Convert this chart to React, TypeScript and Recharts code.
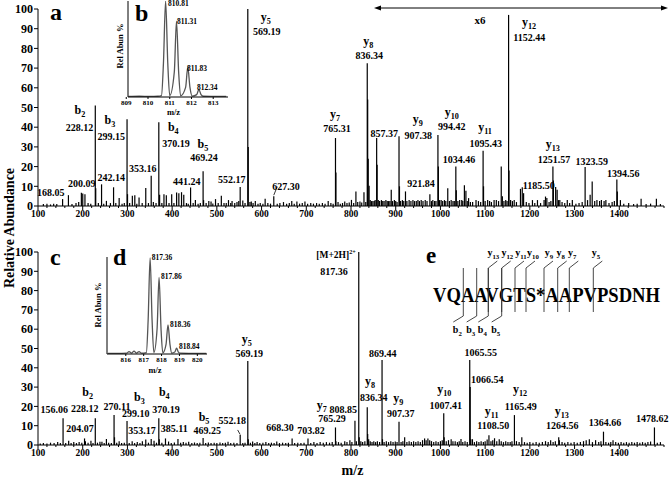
import React from 'react';
import {
  ScatterChart, Scatter, ErrorBar, XAxis, YAxis, ReferenceDot, ReferenceLine,
  LineChart, Line,
} from 'recharts';

const FONT = "'Liberation Serif', 'Times New Roman', serif";

// m/z axis (shared by both spectra)
const X_MAJOR = [100, 200, 300, 400, 500, 600, 700, 800, 900, 1000, 1100, 1200, 1300, 1400];
const X_TICKS = [...X_MAJOR.flatMap(t => [t, t + 20, t + 40, t + 60, t + 80]), 1500];
const Y_TICKS = [0, 10, 20, 30, 40, 50, 60, 70, 80, 90, 100];

// panel a: [m/z, relative abundance], region above ~840 shown x6
const PEAKS_A: [number, number][] = [
  [112, 1], [120, 1.2], [128, 0.8], [135, 1.2], [142, 1], [155, 3.5], [168.05, 5.5], [176, 1], [185, 1.5], [191, 2],
  [197, 6.7], [200.09, 6.3], [205, 6], [212, 1.5], [218, 1.2], [228.12, 51], [229.1, 9], [235, 1.5], [242.14, 11], [247, 1.2],
  [253, 2.6], [262, 1.5], [269, 9.5], [274, 1.5], [281.5, 4], [288, 1.2], [293, 1.5], [299.15, 44], [300.2, 6], [305, 1.5],
  [311, 5.2], [316.5, 5.4], [321, 1.2], [326, 4.3], [333, 1.5], [341, 9.1], [347, 1.5], [353.16, 15.4], [358, 2], [364, 1.5],
  [370.19, 42.5], [372, 5.7], [377, 1.5], [381.7, 6], [387, 5.4], [393, 1.5], [399, 6], [404, 1.5], [410, 6.9], [415, 6.5],
  [421, 7], [426, 5.7], [432, 1.5], [436, 1.2], [441.24, 9.4], [447, 1.5], [452, 3], [458, 1.2], [463, 1.5], [469.24, 17.6],
  [470.3, 3], [476, 1.5], [482, 2.6], [487, 2.3], [491, 1.3], [497, 3.5], [503, 1.5], [510, 5.2], [516, 1.5], [521, 1.5],
  [526, 3], [531, 1.5], [534, 2.5], [540, 1.5], [545, 2], [549, 2.6], [552.17, 9.7], [558, 2.8], [563, 1.5], [569.19, 100],
  [570.2, 30], [574, 2], [577, 2.3], [581, 1.5], [586, 2.6], [592, 1.2], [597, 1.5], [603, 1.2], [608, 3.7], [614, 1.5],
  [620, 1.2], [627.3, 5], [635, 1.2], [641, 1.5], [649, 2], [656, 1.2], [662, 1.5], [667.5, 2.6], [673, 1.2], [679, 2.3],
  [685, 1.2], [691, 1.5], [697, 2.3], [703, 1.2], [710, 1.5], [716, 1.2], [723, 1.5], [729, 1.2], [736, 1.5], [742, 1.2],
  [749, 2.6], [755, 1.5], [760, 1.2], [765.31, 34.5], [766.3, 17], [771, 2], [776, 1.2], [781, 1.5], [786, 2.3], [791, 1.5],
  [796, 1.8], [801, 3.1], [806, 1.5], [811, 7.4], [815, 2], [820, 2.3], [824, 1.8], [829, 7], [833, 2], [836.34, 72.5],
  [837.3, 54], [838.5, 24], [840.5, 10.3], [843, 3], [846, 2.5], [849, 2.5], [852, 2.5], [854, 3], [857.37, 34.5], [858.4, 21],
  [861, 3], [864, 2.5], [868, 3], [871, 2.5], [874, 2.5], [878, 3], [881, 2.5], [884, 2.5], [887, 2.5], [890, 8.2],
  [893, 2.5], [897, 3], [900, 2.5], [903, 2], [907.38, 35.4], [908.4, 10], [911, 2.5], [915, 3], [918, 2.5], [921.84, 7.4],
  [925, 2.5], [930, 3], [934, 2.5], [938.5, 3], [942, 2.5], [946, 2.5], [949.7, 3], [953, 2.5], [957, 3], [961, 2.5],
  [966, 3], [970, 2.5], [976.4, 6], [980, 2.5], [983, 3], [987, 2.5], [990, 2.5], [994.42, 36], [995.4, 20], [998, 3],
  [1001.6, 3], [1005, 2.5], [1009, 3], [1012, 2.5], [1016.4, 9], [1020, 2.5], [1024, 3], [1028, 2.5], [1031, 2.5], [1034.46, 20],
  [1035.5, 8], [1039, 2.5], [1043, 3], [1047.7, 3], [1050, 2.5], [1053.6, 10.5], [1057, 7.7], [1060, 2.5], [1063, 4], [1067, 2],
  [1072, 2], [1079.6, 3], [1085, 2.5], [1090, 2], [1095.43, 28], [1096.4, 10], [1100, 2.5], [1105.6, 3], [1110, 2.5], [1114, 2],
  [1120, 3], [1125, 3], [1130, 2.5], [1136, 20], [1138.5, 5], [1142, 2.5], [1146, 3], [1149, 2.5], [1152.44, 97], [1153.4, 18],
  [1157, 3], [1161, 2.5], [1165, 3], [1170, 2], [1179, 8.7], [1183, 9.5], [1186, 6.5], [1192, 2], [1198, 1.5], [1205.8, 3],
  [1211, 1.5], [1217, 3], [1224, 1.5], [1231.8, 3], [1235, 4.8], [1238, 4], [1243, 2], [1247, 2.5], [1251.57, 20], [1252.6, 13],
  [1257.7, 9.6], [1261, 8.2], [1264, 3], [1267, 3], [1272, 2], [1278, 1.5], [1283.7, 3], [1289, 1.5], [1295, 3], [1303, 1.2],
  [1310, 1.5], [1317, 2], [1323.59, 19.8], [1329, 3], [1334.8, 5.7], [1339.4, 12.5], [1345, 2.5], [1350, 3], [1356, 2.5], [1360, 3],
  [1366, 2.5], [1370, 3], [1377, 1.5], [1384, 2], [1389, 2.5], [1394.56, 13.5], [1395.6, 7.4], [1402.5, 3], [1410, 1.2], [1421, 1.5],
  [1432, 1], [1440, 1.2], [1448.8, 3.7], [1460, 1], [1470, 1.2], [1483, 3.7], [1492, 1],
];

// panel c: [m/z, relative abundance]
const PEAKS_C: [number, number][] = [
  [105, 0.8], [112, 1], [120, 0.8], [128, 1.2], [136, 1], [144, 1.5], [150, 1], [156.06, 13.8], [162, 1], [168.6, 2.2],
  [174, 1], [180, 1.5], [186, 1], [192, 1.5], [198, 1.2], [204.07, 3.4], [206, 2], [212, 1.2], [218.4, 2.2], [223, 1],
  [228.12, 13.8], [233, 1.2], [238.5, 1.7], [243, 1.7], [248, 1], [253, 3.1], [258, 1.2], [264, 1], [270.11, 15.5], [271.1, 4],
  [276, 1.2], [281.5, 2], [287, 1], [293, 1.2], [299.1, 12.4], [304, 1], [310.6, 2], [316, 1], [322, 1.5], [328, 1],
  [333.4, 2], [341, 2.8], [347, 1.2], [353.17, 3.1], [359.5, 2.2], [365, 1.2], [370.19, 13.8], [371.2, 3], [377, 1.2], [385.11, 3.4],
  [392, 1.8], [398, 1], [405, 1.3], [413, 3.1], [419, 1.2], [425, 1.5], [431, 1.2], [437, 1.7], [444, 1], [450, 1.3],
  [456, 1], [462, 1.2], [469.25, 3.6], [475, 1], [481, 1.3], [487, 1], [494, 1.2], [500, 1], [507, 1.3], [513, 1],
  [519, 1.2], [525, 1.7], [531, 1], [538, 1.2], [545, 1], [552.18, 5.2], [558, 1], [563, 1.2], [569.19, 43.5], [570.2, 3],
  [575, 1.2], [580, 1.8], [585, 1], [590, 1.5], [596, 1], [603, 1.2], [609.6, 1.5], [616, 1], [622, 1.2], [628, 1],
  [634, 1.8], [640, 1], [647, 1.2], [654, 1], [660, 1.2], [668.3, 3.4], [674, 1], [681, 1.2], [688, 1], [695, 1.2],
  [703.82, 3.4], [710, 1], [717, 1.5], [724, 1], [731, 1.5], [738, 1.2], [745, 1.5], [752, 1.2], [758, 1.5], [765.29, 9.1],
  [766.3, 2], [772, 1.5], [778, 1.2], [786, 2], [791, 1.5], [797.5, 2.5], [802, 1.5], [808.85, 12.6], [812, 2], [817.36, 100],
  [818.4, 4], [822, 2], [826, 1.5], [831, 2], [836.34, 19.5], [837.3, 5.7], [839.5, 3], [843, 2], [847, 1.5], [851, 2],
  [855, 1.5], [859, 2], [864, 1.5], [869.44, 44], [870.4, 3], [874, 1.5], [879, 2], [884, 1.5], [889, 2], [894, 1.5],
  [899, 1.8], [903, 1.5], [907.37, 12], [912, 1.5], [916, 2], [920, 4], [925, 1.5], [930, 2], [935, 1.5], [940, 2],
  [945, 1.5], [950, 2], [955, 1.5], [960, 2.5], [964.6, 3.4], [968, 2.5], [972, 3.4], [976, 2.5], [980, 2], [985, 1.5],
  [990, 2], [995, 1.5], [1000, 2], [1004, 2.5], [1007.41, 16.4], [1008.4, 4], [1013, 2], [1018, 2.5], [1024, 3], [1028, 2],
  [1033, 2], [1038, 1.5], [1042, 2], [1046, 3.1], [1050, 1.5], [1055, 2], [1060, 1.5], [1065.55, 44], [1066.54, 30], [1068, 3],
  [1071.6, 3], [1076, 1.5], [1081, 2], [1086, 1.5], [1091, 2], [1096, 1.5], [1100, 2], [1104.5, 2.8], [1108.5, 5], [1113, 2],
  [1117, 2.5], [1121, 3.5], [1126, 2], [1131.5, 3], [1136, 2], [1141, 1.5], [1146, 2], [1151, 1.5], [1156, 1.5], [1160, 2],
  [1165.49, 15.5], [1170, 2], [1176, 1.5], [1182, 4], [1188, 1.5], [1194, 1.2], [1200, 1.5], [1207, 1.2], [1214, 1.5], [1221, 1.2],
  [1228, 1.5], [1235, 2], [1241, 1.5], [1246.5, 2.5], [1252, 1.5], [1257, 2], [1264.56, 4], [1266, 2.5], [1272, 1.5], [1278, 1.2],
  [1285, 1.5], [1292, 1.2], [1299, 1.5], [1306, 1.2], [1313, 1.5], [1320, 2], [1326, 2.5], [1333, 3], [1340, 1.5], [1347, 2.5],
  [1354, 1.5], [1359, 2], [1364.66, 6.9], [1370, 1.5], [1376, 1.2], [1381, 1.5], [1386, 2.5], [1392, 1.5], [1398, 1.2], [1404, 1.5],
  [1410, 1.2], [1416, 1.5], [1422, 1.2], [1428, 1.5], [1434, 1.2], [1440, 1.5], [1446, 1.2], [1452, 1.5], [1458, 1.2], [1464, 1.5],
  [1470, 1.8], [1478.62, 9.1], [1485, 1.2], [1492, 1.5],
];

// peak annotations: [m/z text, ion letter, ion number]
const LABELS_A = [
  ['168.05', '', ''], ['200.09', '', ''], ['228.12', 'b', '2'], ['242.14', '', ''], ['299.15', 'b', '3'],
  ['353.16', '', ''], ['370.19', 'b', '4'], ['441.24', '', ''], ['469.24', 'b', '5'], ['552.17', '', ''],
  ['569.19', 'y', '5'], ['627.30', '', ''], ['765.31', 'y', '7'], ['836.34', 'y', '8'], ['857.37', '', ''],
  ['907.38', 'y', '9'], ['921.84', '', ''], ['994.42', 'y', '10'], ['1034.46', '', ''], ['1095.43', 'y', '11'],
  ['1152.44', 'y', '12'], ['1185.50', '', ''], ['1251.57', 'y', '13'], ['1323.59', '', ''], ['1394.56', '', ''],
];
// label anchors in chart units: [m/z, y of value text, m/z of ion, y of ion]
const LABEL_AT_A = [
  [128.4, 5.1, 0, 0], [197.7, 9.8, 0, 0], [192.8, 38.2, 193.9, 46.8], [263.9, 12.7, 0, 0], [263.9, 33.5, 261, 41.6],
  [334.2, 17.3, 0, 0], [408.7, 30.1, 402.6, 38.2], [432.6, 10.7, 0, 0], [471.3, 22.6, 469, 29.4], [533.2, 11.5, 0, 0],
  [611.5, 86.8, 609.3, 94], [654.7, 8.1, 0, 0], [768.7, 37.6, 764.3, 44.5], [841, 74.5, 838.7, 81.7], [874.5, 34.9, 0, 0],
  [950.6, 33.9, 949.2, 42], [956.6, 9.5, 0, 0], [1025.3, 38.6, 1025.3, 45.7], [1041.6, 21.7, 0, 0], [1101.3, 29.8, 1099.8, 38.2],
  [1198.8, 83.6, 1198.2, 91.4], [1219.9, 8.5, 0, 0], [1254.1, 22, 1251.2, 29.6], [1338.4, 20.8, 0, 0], [1409.1, 14.6, 0, 0],
];

const LABELS_C = [
  ['156.06', '', ''], ['228.12', 'b', '2'], ['270.11', '', ''], ['299.10', 'b', '3'], ['370.19', 'b', '4'],
  ['204.07', '', ''], ['353.17', '', ''], ['385.11', '', ''], ['469.25', 'b', '5'], ['552.18', '', ''],
  ['569.19', 'y', '5'], ['668.30', '', ''], ['703.82', '', ''], ['765.29', 'y', '7'], ['808.85', '', ''],
  ['817.36', '[M+2H]', '2+'], ['836.34', 'y', '8'], ['869.44', '', ''], ['907.37', 'y', '9'], ['1007.41', 'y', '10'],
  ['1065.55', '', ''], ['1066.54', '', ''], ['1108.50', 'y', '11'], ['1165.49', 'y', '12'], ['1264.56', 'y', '13'],
  ['1364.66', '', ''], ['1478.62', '', ''],
];
const LABEL_AT_C = [
  [136.5, 16.4, 0, 0], [204.4, 16.9, 211.2, 25.4], [276.7, 18.1, 0, 0], [318.5, 14.7, 326.6, 23], [386.3, 16.4, 382.5, 25.4],
  [193.9, 6.6, 0, 0], [332.6, 5.7, 0, 0], [404.8, 6.6, 0, 0], [478.7, 5.5, 471.3, 12.6], [534.6, 10.9, 0, 0],
  [572.6, 45.8, 566.8, 53], [641.3, 7.4, 0, 0], [710.6, 5.7, 0, 0], [757.6, 11.8, 734.5, 18.7], [782.8, 16.4, 0, 0],
  [762, 88.1, 766.5, 96.7], [851, 23, 842.6, 31.1], [870.9, 45.8, 0, 0], [911.2, 14.4, 905.8, 22.4], [1011.9, 18.5, 1008.7, 26.8],
  [1090.1, 46.1, 0, 0], [1104.9, 32, 0, 0], [1118.3, 8.1, 1114.7, 15.5], [1179.6, 18.1, 1178, 26.8], [1272.6, 8.1, 1271.3, 15.5],
  [1368.2, 9.8, 0, 0], [1474, 12.1, 0, 0],
];

// short leader lines from a label to its peak
const LEADERS_A = [[[627.3, 5.5], [635, 9.8]]];
const LEADERS_C = [[[546.5, 7.8], [552.18, 5.4]]];

// inset b: precursor isotope envelope (m/z, rel. abundance)
const ISO_B_TICKS = [809, 810, 811, 812, 813];
const ISO_B: [number, number][] = [
  [809.1, 0.5], [809.6, 0.8], [810.1, 0.6], [810.45, 0.8], [810.62, 1.5], [810.71, 35], [810.81, 100], [810.91, 35],
  [811.0, 1.5], [811.21, 26], [811.31, 79], [811.41, 26], [811.5, 1.2], [811.73, 10], [811.83, 31], [811.93, 10],
  [812.03, 1], [812.24, 2.5], [812.34, 8], [812.44, 2.5], [812.55, 0.8], [813.0, 0.6], [813.6, 0.5],
];
const ISO_B_LABELS = ['810.81', '811.31', '811.83', '812.34'];
const ISO_B_AT = [[810.92, 94.4], [811.33, 76], [811.79, 27.4], [812.25, 7.3]];

// inset d
const ISO_D_TICKS = [816, 817, 818, 819, 820];
const ISO_D: [number, number][] = [
  [815.0, 0.5], [815.6, 0.7], [816.05, 0.8], [816.18, 2.5], [816.32, 0.9], [816.46, 3], [816.6, 1], [816.74, 2.5],
  [816.88, 0.8], [817.15, 1.5], [817.25, 35], [817.36, 99], [817.47, 35], [817.57, 1.5], [817.75, 26], [817.86, 79],
  [817.97, 26], [818.07, 1.2], [818.25, 10], [818.36, 30], [818.47, 10], [818.57, 1], [818.74, 2], [818.84, 6],
  [818.94, 2], [819.05, 0.8], [819.6, 0.6], [820.5, 0.5],
];
const ISO_D_LABELS = ['817.36', '817.86', '818.36', '818.84'];
const ISO_D_AT = [[817.45, 96.9], [817.97, 77], [818.47, 28.1], [818.97, 4.8]];

// panel e: sequence with fragment cleavage marks
const PEPTIDE = 'VQAAVGTS*AAPVPSDNH';
const B_FRAGS = ['2', '3', '4', '5'];
const Y_FRAGS = ['13', '12', '11', '10', '9', '8', '7', '5'];
const B_LINE_X = [463.3, 476.7, 488.3, 501.7];
const Y_LINE_X = [488.3, 501.7, 515, 526, 544, 557.7, 569.3, 593.3];
const Y_LABEL_X = [493.3, 507.3, 521, 533, 549, 560.7, 572.3, 596];

const ionText = (x: number, y: number, letter: string, num: string, size = 12) => {
  const sup = letter.startsWith('[');
  return (
    <text x={x} y={y} textAnchor="middle" fontFamily={FONT} fontWeight="bold" fontSize={size} fill="#000">
      {letter}
      <tspan fontSize={sup ? size * 0.65 : size * 0.68} dy={sup ? -4 : 3}>{num}</tspan>
    </text>
  );
};

const MzTick = (props: any) => {
  const { x, y, payload } = props;
  const major = X_MAJOR.includes(payload.value);
  return (
    <g>
      <line x1={x} x2={x} y1={y} y2={y + (major ? 4 : 2)} stroke="#000" />
      {major && (
        <text x={x} y={y + 11} textAnchor="middle" fontSize={9.5} fontWeight="bold" fontFamily={FONT} fill="#000">
          {payload.value}
        </text>
      )}
    </g>
  );
};

const annotate = (labels: string[][], at: number[][], key: string, numSize = 10, ionSize = 12) =>
  labels.flatMap(([txt, ion, sub], i) => {
    const [mx, my, ix, iy] = at[i];
    const out = [
      <ReferenceDot key={`${key}n${i}`} x={mx} y={my} r={0} ifOverflow="visible"
        shape={(p: any) => (
          <text x={p.cx} y={p.cy} textAnchor="middle" fontFamily={FONT} fontWeight="bold" fontSize={numSize} fill="#000">{txt}</text>
        )} />,
    ];
    if (ion) {
      out.push(
        <ReferenceDot key={`${key}i${i}`} x={ix} y={iy} r={0} ifOverflow="visible"
          shape={(p: any) => ionText(p.cx, p.cy, ion, sub, ion.startsWith('[') ? 9.5 : ionSize)} />,
      );
    }
    return out;
  });

const Spectrum = ({ peaks, labels, at, leaders, top, height, margin, name }: any) => {
  const data = peaks.map(([mz, v]: number[]) => ({ mz, v, err: [v, 0] }));
  return (
    <div style={{ position: 'absolute', left: 0, top }}>
      <ScatterChart width={669} height={height} margin={margin}>
        <XAxis type="number" dataKey="mz" domain={[100, 1500]} ticks={X_TICKS} interval={0} tick={<MzTick />}
          tickSize={0} tickMargin={0} tickLine={false} axisLine={{ stroke: '#000' }} height={20} allowDataOverflow />
        <YAxis type="number" dataKey="v" domain={[0, 100]} ticks={Y_TICKS} interval={0} width={38} tickSize={4} tickMargin={1}
          tickLine={{ stroke: '#000' }} axisLine={{ stroke: '#000' }} allowDataOverflow
          tick={{ fontSize: 12, fontWeight: 'bold', fill: '#000', fontFamily: FONT }} />
        <Scatter data={data} shape={() => <g />} isAnimationActive={false}>
          <ErrorBar dataKey="err" direction="y" width={0} stroke="#000" strokeWidth={1.2} isAnimationActive={false} />
        </Scatter>
        {leaders.map((seg: number[][], i: number) => (
          <ReferenceLine key={`${name}l${i}`} segment={[{ x: seg[0][0], y: seg[0][1] }, { x: seg[1][0], y: seg[1][1] }]}
            stroke="#000" strokeWidth={0.8} ifOverflow="visible" />
        ))}
        {annotate(labels, at, name)}
      </ScatterChart>
    </div>
  );
};

const Isotope = ({ data, ticks, domain, labels, at, left, top, width, height, margin, yWidth, xHeight }: any) => (
  <div style={{ position: 'absolute', left, top }}>
    <LineChart width={width} height={height} margin={margin} data={data.map(([mz, v]: number[]) => ({ mz, v }))}>
      <XAxis type="number" dataKey="mz" domain={domain} ticks={ticks} interval={0} allowDataOverflow height={xHeight}
        tickSize={2} tickMargin={1} tickLine={{ stroke: '#000' }} axisLine={{ stroke: '#000' }}
        tick={{ fontSize: 7, fontWeight: 'bold', fill: '#000', fontFamily: FONT }} />
      <YAxis type="number" domain={[0, 100]} tick={false} tickLine={false} axisLine={{ stroke: '#000' }} width={yWidth} allowDataOverflow />
      <Line type="monotone" dataKey="v" stroke="#555" strokeWidth={1.3} dot={false} isAnimationActive={false} />
      {labels.map((t: string, i: number) => (
        <ReferenceDot key={t} x={at[i][0]} y={at[i][1]} r={0} ifOverflow="visible"
          shape={(p: any) => (
            <text x={p.cx} y={p.cy} fontFamily={FONT} fontWeight="bold" fontSize={7.5} fill="#000">{t}</text>
          )} />
      ))}
    </LineChart>
  </div>
);

const bold = { fontFamily: FONT, fontWeight: 'bold' as const, fill: '#000' };

export default function App() {
  return (
    <div style={{ position: 'absolute', left: 0, top: 0, width: 669, height: 477, background: '#fff', overflow: 'hidden' }}>
      <Spectrum name="a" peaks={PEAKS_A} labels={LABELS_A} at={LABEL_AT_A} leaders={LEADERS_A}
        top={0} height={226} margin={{ top: 9, right: 5, bottom: 0, left: 0 }} />
      <Spectrum name="c" peaks={PEAKS_C} labels={LABELS_C} at={LABEL_AT_C} leaders={LEADERS_C}
        top={240} height={240} margin={{ top: 12, right: 5, bottom: 15, left: 0 }} />
      <Isotope data={ISO_B} ticks={ISO_B_TICKS} domain={[809.08, 813.68]} labels={ISO_B_LABELS} at={ISO_B_AT}
        left={100} top={0} width={135} height={120} margin={{ top: 1, right: 7, bottom: 0, left: 0 }} yWidth={28} xHeight={23} />
      <Isotope data={ISO_D} ticks={ISO_D_TICKS} domain={[814.95, 820.54]} labels={ISO_D_LABELS} at={ISO_D_AT}
        left={80} top={250} width={135} height={128} margin={{ top: 7, right: 8, bottom: 0, left: 0 }} yWidth={27} xHeight={24} />

      <svg width={669} height={477} style={{ position: 'absolute', left: 0, top: 0, pointerEvents: 'none' }}>
        <text {...bold} fontSize={14} textAnchor="middle" transform="translate(14,228) rotate(-90)">Relative Abundance</text>
        <text {...bold} fontSize={14} x={352.5} y={475} textAnchor="middle">m/z</text>

        <text {...bold} fontSize={24} x={50} y={20}>a</text>
        <text {...bold} fontSize={24} x={135} y={21}>b</text>
        <text {...bold} fontSize={24} x={50} y={265}>c</text>
        <text {...bold} fontSize={24} x={113} y={265}>d</text>
        <text {...bold} fontSize={23} x={426} y={263}>e</text>

        <text {...bold} fontSize={8.5} textAnchor="middle" transform="translate(123,46) rotate(-90)">Rel Abun %</text>
        <text {...bold} fontSize={8.5} x={173.5} y={115} textAnchor="middle">m/z</text>
        <text {...bold} fontSize={8.5} textAnchor="middle" transform="translate(101,305) rotate(-90)">Rel Abun %</text>
        <text {...bold} fontSize={8.5} x={155} y={373} textAnchor="middle">m/z</text>

        <line x1={378} x2={664} y1={8} y2={8} stroke="#000" strokeWidth={1} />
        <polygon points="374,8 381,5.5 381,10.5" fill="#000" />
        <polygon points="668,8 661,5.5 661,10.5" fill="#000" />
        <text {...bold} fontSize={11} x={480} y={24} textAnchor="middle">x6</text>

        <text {...bold} fontSize={20} x={433} y={301.7} textLength={227} lengthAdjust="spacingAndGlyphs">{PEPTIDE}</text>
        {B_LINE_X.map((x, i) => (
          <g key={`b${i}`}>
            <path d={`M${x},268 V316 L${x - 10},322`} fill="none" stroke="#333" strokeWidth={0.9} />
            {ionText(x - 6, 333, 'b', B_FRAGS[i], 10)}
          </g>
        ))}
        {Y_LINE_X.map((x, i) => (
          <g key={`y${i}`}>
            <path d={`M${x},312 V268 L${x + 9},261`} fill="none" stroke="#333" strokeWidth={0.9} />
            {ionText(Y_LABEL_X[i], 256, 'y', Y_FRAGS[i], 10)}
          </g>
        ))}
      </svg>
    </div>
  );
}
